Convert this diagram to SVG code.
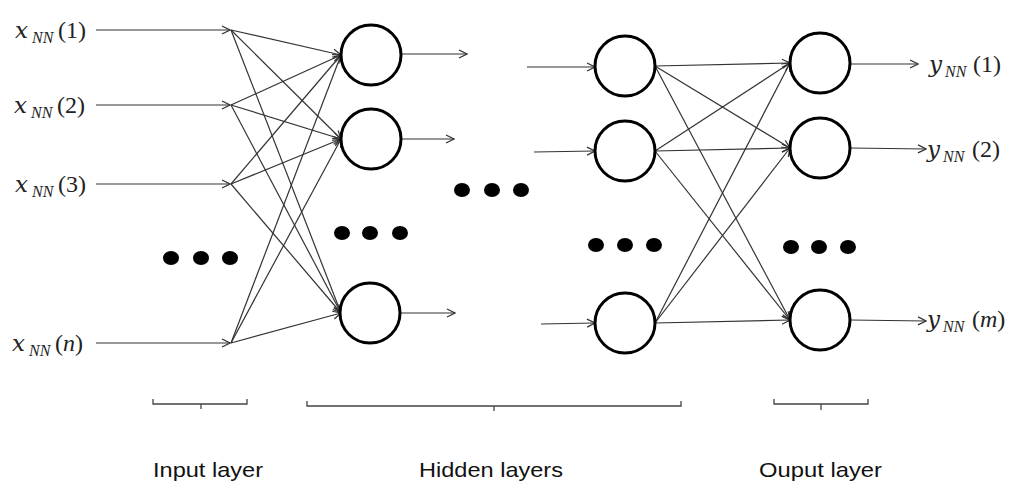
<svg xmlns="http://www.w3.org/2000/svg" width="1024" height="504" viewBox="0 0 1024 504">
<style>
.conn line{stroke:#333;stroke-width:1.2;fill:none}
.arr{marker-end:url(#ah)}
.node circle{fill:#fff;stroke:#000;stroke-width:3}
.dot{fill:#000}
.math{font-family:"Liberation Serif","DejaVu Serif",serif;font-size:24px;fill:#222}
.v{font-family:"DejaVu Serif","Liberation Serif",serif;font-style:italic;font-size:23px}
.it{font-style:italic}
.sub{font-style:italic;font-size:16px}
.lbl{font-family:"Liberation Sans",Arial,sans-serif;font-size:21px;fill:#111}
.br{stroke:#444;stroke-width:1.3;fill:none}
</style>
<defs>
<marker id="ah" viewBox="0 0 10 10" markerWidth="10" markerHeight="10" refX="9" refY="5" orient="auto" markerUnits="userSpaceOnUse">
<path d="M1,1 L9,5 L1,9" fill="none" stroke="#333" stroke-width="1.2"/>
</marker>
</defs>
<rect width="1024" height="504" fill="#fff"/>

<g id="connectors" class="conn">
<line class="arr" x1="96" y1="30" x2="230" y2="30"/>
<line class="arr" x1="96" y1="105" x2="230" y2="105"/>
<line class="arr" x1="96" y1="184" x2="230" y2="184"/>
<line class="arr" x1="96" y1="343" x2="230" y2="343"/>
<line class="arr" x1="231" y1="30" x2="341" y2="55"/>
<line class="arr" x1="231" y1="30" x2="341" y2="139"/>
<line class="arr" x1="231" y1="30" x2="341" y2="313"/>
<line class="arr" x1="231" y1="105" x2="341" y2="55"/>
<line class="arr" x1="231" y1="105" x2="341" y2="139"/>
<line class="arr" x1="231" y1="105" x2="341" y2="313"/>
<line class="arr" x1="231" y1="184" x2="341" y2="55"/>
<line class="arr" x1="231" y1="184" x2="341" y2="139"/>
<line class="arr" x1="231" y1="184" x2="341" y2="313"/>
<line class="arr" x1="231" y1="343" x2="341" y2="55"/>
<line class="arr" x1="231" y1="343" x2="341" y2="139"/>
<line class="arr" x1="231" y1="343" x2="341" y2="313"/>
<line class="arr" x1="401" y1="54" x2="467" y2="54"/>
<line class="arr" x1="401" y1="139" x2="454" y2="139"/>
<line class="arr" x1="400" y1="313" x2="455" y2="313"/>
<line class="arr" x1="527" y1="67" x2="595" y2="67"/>
<line class="arr" x1="534" y1="152" x2="595" y2="151"/>
<line class="arr" x1="541" y1="324" x2="595" y2="323"/>
<line class="arr" x1="655" y1="66" x2="790" y2="63"/>
<line class="arr" x1="655" y1="66" x2="790" y2="148"/>
<line class="arr" x1="655" y1="66" x2="790" y2="320"/>
<line class="arr" x1="655" y1="151" x2="790" y2="63"/>
<line class="arr" x1="655" y1="151" x2="790" y2="148"/>
<line class="arr" x1="655" y1="151" x2="790" y2="320"/>
<line class="arr" x1="655" y1="323" x2="790" y2="63"/>
<line class="arr" x1="655" y1="323" x2="790" y2="148"/>
<line class="arr" x1="655" y1="323" x2="790" y2="320"/>
<line class="arr" x1="850" y1="64" x2="918" y2="64"/>
<line class="arr" x1="850" y1="148" x2="926" y2="149"/>
<line class="arr" x1="850" y1="320" x2="926" y2="321"/>
</g>

<g id="h1-1" class="node"><circle cx="371" cy="55" r="30"/></g>
<g id="h1-2" class="node"><circle cx="371" cy="139" r="30"/></g>
<g id="h1-n" class="node"><circle cx="370" cy="313" r="30"/></g>
<g id="h2-1" class="node"><circle cx="625" cy="66" r="30"/></g>
<g id="h2-2" class="node"><circle cx="625" cy="151" r="30"/></g>
<g id="h2-n" class="node"><circle cx="625" cy="323" r="30"/></g>
<g id="o-1" class="node"><circle cx="820" cy="63" r="30"/></g>
<g id="o-2" class="node"><circle cx="820" cy="148" r="30"/></g>
<g id="o-m" class="node"><circle cx="820" cy="320" r="30"/></g>

<g id="dots">
<ellipse class="dot" cx="171" cy="258" rx="8" ry="7"/>
<ellipse class="dot" cx="201" cy="258" rx="8" ry="7"/>
<ellipse class="dot" cx="230" cy="258" rx="8" ry="7"/>
<ellipse class="dot" cx="342" cy="233" rx="8" ry="7"/>
<ellipse class="dot" cx="370" cy="233" rx="8" ry="7"/>
<ellipse class="dot" cx="400" cy="233" rx="8" ry="7"/>
<ellipse class="dot" cx="462" cy="190" rx="8" ry="7"/>
<ellipse class="dot" cx="492" cy="190" rx="8" ry="7"/>
<ellipse class="dot" cx="521" cy="190" rx="8" ry="7"/>
<ellipse class="dot" cx="596" cy="245" rx="8" ry="7"/>
<ellipse class="dot" cx="625" cy="245" rx="8" ry="7"/>
<ellipse class="dot" cx="654" cy="245" rx="8" ry="7"/>
<ellipse class="dot" cx="791" cy="247" rx="8" ry="7"/>
<ellipse class="dot" cx="819" cy="247" rx="8" ry="7"/>
<ellipse class="dot" cx="848" cy="247" rx="8" ry="7"/>
</g>

<g id="in-1"><text class="math" y="38"><tspan class="v" x="15">x</tspan><tspan class="sub" x="32" dy="5">NN</tspan><tspan x="58" dy="-5">(1)</tspan></text></g>
<g id="in-2"><text class="math" y="113"><tspan class="v" x="14">x</tspan><tspan class="sub" x="31" dy="5">NN</tspan><tspan x="57" dy="-5">(2)</tspan></text></g>
<g id="in-3"><text class="math" y="192"><tspan class="v" x="15">x</tspan><tspan class="sub" x="32" dy="5">NN</tspan><tspan x="58" dy="-5">(3)</tspan></text></g>
<g id="in-n"><text class="math" y="351"><tspan class="v" x="12">x</tspan><tspan class="sub" x="29" dy="5">NN</tspan><tspan x="55" dy="-5">(</tspan><tspan class="it">n</tspan><tspan>)</tspan></text></g>

<g id="out-1"><text class="math" y="72"><tspan class="v" x="929">y</tspan><tspan class="sub" x="945" dy="5">NN</tspan><tspan x="973" dy="-5">(1)</tspan></text></g>
<g id="out-2"><text class="math" y="157"><tspan class="v" x="927">y</tspan><tspan class="sub" x="943" dy="5">NN</tspan><tspan x="972" dy="-5">(2)</tspan></text></g>
<g id="out-m"><text class="math" y="327"><tspan class="v" x="927">y</tspan><tspan class="sub" x="943" dy="5">NN</tspan><tspan x="972" dy="-5">(</tspan><tspan class="it">m</tspan><tspan>)</tspan></text></g>

<g id="brackets">
<path class="br" d="M153,399 V404 H247 V399 M201,404 V409"/>
<path class="br" d="M307,401 V406 H681 V401 M494,406 V411"/>
<path class="br" d="M774,399 V404 H868 V399 M821,404 V410"/>
</g>

<g id="labels">
<text class="lbl" x="153" y="477" textLength="110" lengthAdjust="spacingAndGlyphs">Input layer</text>
<text class="lbl" x="419" y="477" textLength="144" lengthAdjust="spacingAndGlyphs">Hidden layers</text>
<text class="lbl" x="759" y="477" textLength="123" lengthAdjust="spacingAndGlyphs">Ouput layer</text>
</g>
</svg>
